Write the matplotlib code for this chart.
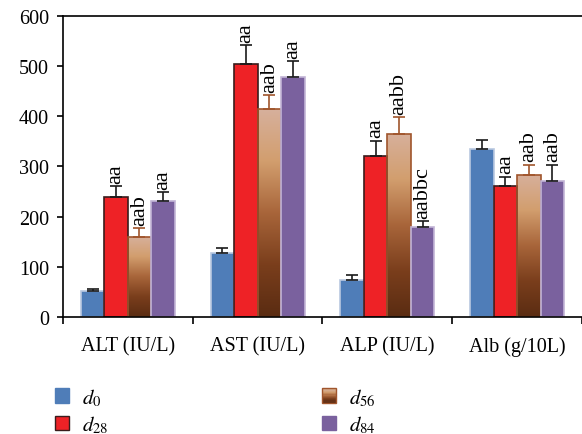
import numpy as np
import matplotlib
matplotlib.use("Agg")
import matplotlib.pyplot as plt
from matplotlib.colors import LinearSegmentedColormap
from matplotlib.patches import Patch, Rectangle
from matplotlib.legend_handler import HandlerBase

plt.rcParams['font.family'] = ['Liberation Serif', 'DejaVu Serif']
plt.rcParams['mathtext.fontset'] = 'stix'

# data
categories = ['ALT (IU/L)', 'AST (IU/L)', 'ALP (IU/L)', 'Alb (g/10L)']
series = ['$d_{0}$', '$d_{28}$', '$d_{56}$', '$d_{84}$']
d0 = [52, 127, 74, 334]
d28 = [240, 505, 321, 262]
d56 = [160, 414, 365, 284]
d84 = [232, 479, 179, 272]
d0_err = [4, 10, 9, 18]
d28_err = [21, 37, 30, 18]
d56_err = [17, 28, 33, 19]
d84_err = [17, 31, 12, 31]
d28_lab = ['aa', 'aa', 'aa', 'aa']
d56_lab = ['aab', 'aab', 'aabb', 'aab']
d84_lab = ['aa', 'aa', 'aabbc', 'aab']

values = [d0, d28, d56, d84]
errors = [d0_err, d28_err, d56_err, d84_err]
labels = [None, d28_lab, d56_lab, d84_lab]

faces = ['#4f7db8', '#ee2226', 'none', '#7a619e']
edges = ['#b9c8e0', '#3a1c1c', '#a0552c', '#c2b4d6']
ecols = ['#1a1a1a', '#1a1a1a', '#a0552c', '#1a1a1a']

# d56 bars are filled with a light-tan to dark-brown gradient
brown = LinearSegmentedColormap.from_list(
    'brown', ['#d7b09c', '#d29e6e', '#a8653a', '#7a3e1c', '#5a2c12'])


class GradientHandler(HandlerBase):
    def create_artists(self, legend, orig_handle, xdescent, ydescent,
                       width, height, fontsize, trans):
        arts = []
        n = 12
        for k in range(n):
            c = brown(k / (n - 1))
            y0 = -ydescent + height * (1 - (k + 1) / n)
            arts.append(Rectangle((-xdescent, y0), width, height / n,
                                  facecolor=c, edgecolor='none', transform=trans))
        arts.append(Rectangle((-xdescent, -ydescent), width, height, facecolor='none',
                              edgecolor='#a0552c', linewidth=1, transform=trans))
        return arts


fig = plt.figure(figsize=(5.82, 4.35), dpi=100)
ax = fig.add_axes([0.108, 0.269, 0.892, 0.692])

x = np.arange(len(categories)) + 0.5
w = 0.181
offsets = [-1.5 * w, -0.5 * w, 0.5 * w, 1.5 * w]

grad = np.linspace(0, 1, 256).reshape(-1, 1)

for i in range(4):
    xs = x + offsets[i]
    bars = ax.bar(xs, values[i], width=w, color=faces[i], edgecolor=edges[i],
                  linewidth=1.2, zorder=2)
    if i == 2:
        for b in bars:
            im = ax.imshow(grad, cmap=brown, aspect='auto', zorder=1.9, origin='upper',
                           extent=[b.get_x(), b.get_x() + b.get_width(), 0, b.get_height()],
                           vmin=0, vmax=1)
            im.set_clip_path(b)
    ax.errorbar(xs, values[i], yerr=[np.zeros(4), errors[i]], fmt='none',
                ecolor=ecols[i], elinewidth=1.2, capsize=4, capthick=1.2, zorder=3)
    if labels[i] is not None:
        for j in range(4):
            ax.text(xs[j], values[i][j] + errors[i][j] + 7, labels[i][j],
                    rotation=90, ha='center', va='bottom', fontsize=16)

ax.set_xlim(0, 4)
ax.set_ylim(0, 600)
ax.set_yticks([0, 100, 200, 300, 400, 500, 600])
ax.set_xticks([0, 1, 2, 3, 4])
ax.set_xticklabels([])
ax.set_xticks(x, minor=True)
ax.set_xticklabels(categories, minor=True)
ax.tick_params(axis='x', which='minor', length=0, pad=14, labelsize=14.5)
ax.tick_params(axis='x', which='major', length=5, width=1.2)
ax.tick_params(axis='y', length=4, width=1.2, labelsize=14.5, pad=6)
ax.spines['right'].set_visible(False)
for s in ['left', 'top', 'bottom']:
    ax.spines[s].set_linewidth(1.2)

# legend, two columns
legend_faces = ['#4f7db8', '#ee2226', '#b07040', '#7a619e']
legend_edges = ['#4f7db8', '#3a1c1c', '#a0552c', '#7a619e']
handles = [Patch(facecolor=legend_faces[k], edgecolor=legend_edges[k], label=series[k])
           for k in range(4)]
leg_kw = dict(loc='upper left', frameon=False, fontsize=15, handlelength=0.7,
              handleheight=0.7, handletextpad=0.6, labelspacing=0.28,
              borderpad=0, borderaxespad=0)
fig.legend(handles=handles[:2], bbox_to_anchor=(0.094, 0.11), **leg_kw)
fig.legend(handles=handles[2:], bbox_to_anchor=(0.553, 0.11),
           handler_map={handles[2]: GradientHandler()}, **leg_kw)

fig.savefig('out.png', dpi=100)
